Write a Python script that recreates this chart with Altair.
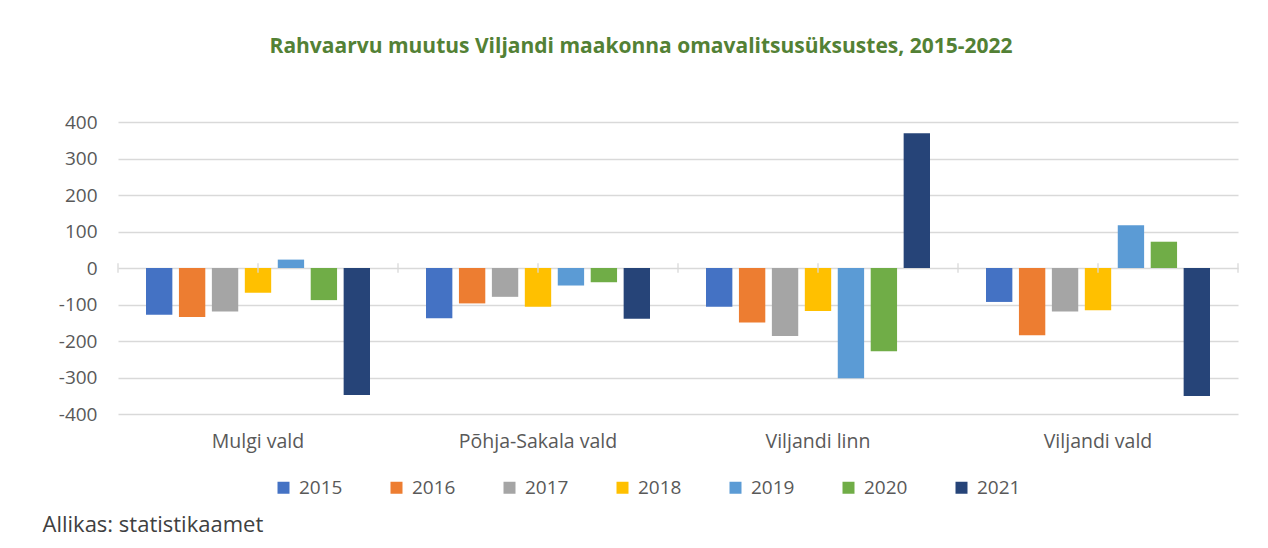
import altair as alt
import pandas as pd

categories = ["Mulgi vald", "Põhja-Sakala vald", "Viljandi linn", "Viljandi vald"]
years = ["2015", "2016", "2017", "2018", "2019", "2020", "2021"]
colors = ["#4472C4", "#ED7D31", "#A5A5A5", "#FFC000", "#5B9BD5", "#70AD47", "#264478"]
y_ticks = [-400, -300, -200, -100, 0, 100, 200, 300, 400]

v2015 = [-128, -138, -106, -93]
v2016 = [-134, -97, -149, -184]
v2017 = [-119, -79, -186, -119]
v2018 = [-68, -106, -118, -116]
v2019 = [23, -48, -302, 117]
v2020 = [-88, -39, -228, 72]
v2021 = [-348, -139, 369, -351]

series = [v2015, v2016, v2017, v2018, v2019, v2020, v2021]
rows = []
for y, vals in zip(years, series):
    for c, v in zip(categories, vals):
        rows.append({"vald": c, "aasta": y, "muutus": v})
df = pd.DataFrame(rows)

FONT = "Open Sans"
GRID = "#d9d9d9"
x_scale = alt.Scale(domain=categories, paddingInner=0.2, paddingOuter=0.1)
y_scale = alt.Scale(domain=[-400, 400], nice=False)

x_axis = alt.Axis(
    title="Allikas: statistikaamet",
    titleX=-76,
    titleY=110,
    titleAlign="left",
    titleAnchor="start",
    titleBaseline="middle",
    titleFontWeight="normal",
    titleFontSize=22,
    titleColor="#404040",
    titleFont=FONT,
    labelAngle=0,
    labelFontSize=19.5,
    labelFont=FONT,
    labelColor="#595959",
    labelPadding=18,
    domain=False,
    ticks=False,
    grid=False,
)
y_axis = alt.Axis(
    title=None,
    values=y_ticks,
    labelExpr="'' + datum.value",
    labelOverlap=False,
    labelFontSize=19,
    labelFont=FONT,
    labelColor="#595959",
    labelPadding=21,
    domain=False,
    ticks=False,
    grid=True,
    gridColor=GRID,
    gridWidth=1.3,
)

bars = alt.Chart(df).mark_bar().encode(
    x=alt.X("vald:N", sort=categories, scale=x_scale, axis=x_axis),
    xOffset=alt.XOffset("aasta:N", sort=years, scale=alt.Scale(paddingInner=0.2, paddingOuter=0)),
    y=alt.Y("muutus:Q", scale=y_scale, axis=y_axis),
    color=alt.Color(
        "aasta:N",
        sort=years,
        scale=alt.Scale(domain=years, range=colors),
        legend=alt.Legend(
            title=None,
            orient="none",
            legendX=156,
            legendY=356,
            direction="horizontal",
            columns=7,
            symbolType="square",
            symbolSize=144,
            symbolStrokeWidth=0,
            labelFontSize=19,
            labelFont=FONT,
            labelColor="#595959",
            labelOffset=6,
            columnPadding=44,
        ),
    ),
)

cat_df = pd.DataFrame({"vald": categories, "lo": [-13] * 4, "hi": [13] * 4})
last_df = pd.DataFrame({"vald": [categories[-1]], "lo": [-13], "hi": [13]})


def tick_layer(data, band, dx):
    return alt.Chart(data).mark_rule(color=GRID, strokeWidth=1.3, xOffset=dx).encode(
        x=alt.X("vald:N", sort=categories, scale=x_scale, axis=x_axis, bandPosition=band),
        y=alt.Y("lo:Q", scale=y_scale, axis=y_axis),
        y2="hi:Q",
    )


center_ticks = tick_layer(cat_df, 0.5, 0)
edge_ticks = tick_layer(cat_df, 0, -28)
end_tick = tick_layer(last_df, 1, 28)

chart = (
    alt.layer(bars, center_ticks, edge_ticks, end_tick)
    .properties(
        width=1120,
        height=292,
        autosize=alt.AutoSizeParams(type="none"),
        padding={"left": 110, "top": 114, "right": 22, "bottom": 124},
        background="white",
        title=alt.TitleParams(
            "Rahvaarvu muutus Viljandi maakonna omavalitsusüksustes, 2015-2022",
            fontSize=21,
            fontWeight="bold",
            font=FONT,
            color="#538135",
            anchor="middle",
            dx=-37,
            offset=56,
        ),
    )
    .configure_view(stroke=None)
)

chart.save("out.html", embed_options={"renderer": "svg", "actions": False})
